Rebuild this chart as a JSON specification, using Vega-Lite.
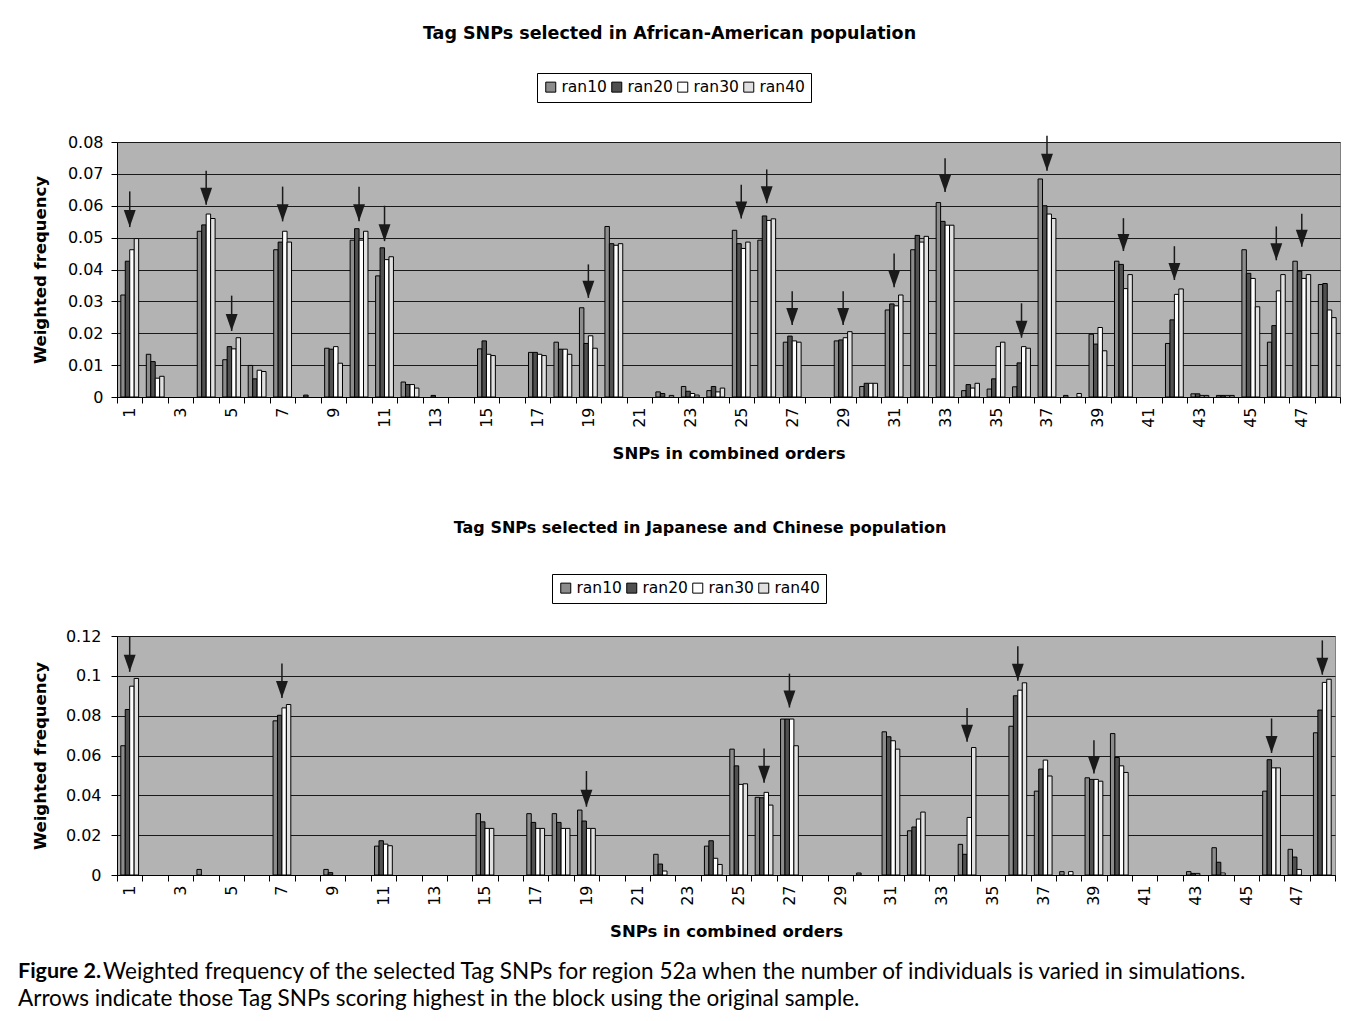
{
  "$schema": "https://vega.github.io/schema/vega-lite/v6.json",
  "background": "white",
  "padding": {"left": 18, "top": 24, "right": 0, "bottom": 0},
  "config": {
    "font": "DejaVu Sans",
    "view": {"fill": "#b3b3b3", "stroke": "#808080", "strokeWidth": 1},
    "title": {"fontSize": 17.5, "fontWeight": "bold", "color": "black", "anchor": "middle", "font": "DejaVu Sans"},
    "axis": {
      "domainColor": "black", "tickColor": "black", "tickSize": 6, "labelColor": "black",
      "labelFontSize": 16, "titleFontSize": 16.5, "titleFontWeight": "bold", "titleColor": "black",
      "gridColor": "#1a1a1a", "gridWidth": 1, "gridOpacity": 1
    },
    "legend": {
      "orient": "none", "direction": "horizontal", "strokeColor": "black", "strokeWidth": 1,
      "padding": 6, "symbolType": "square", "symbolSize": 100, "symbolStrokeColor": "black",
      "symbolStrokeWidth": 1, "symbolOpacity": 1, "labelFontSize": 15.5, "labelColor": "black",
      "labelOffset": 3, "columnPadding": 2, "fillColor": "white"
    }
  },
  "datasets": {
    "aa": [
      {"snp":1,"run":"ran10","freq":0.032},{"snp":1,"run":"ran20","freq":0.0426},{"snp":1,"run":"ran30","freq":0.0462},{"snp":1,"run":"ran40","freq":0.0497},
      {"snp":2,"run":"ran10","freq":0.0134},{"snp":2,"run":"ran20","freq":0.0111},{"snp":2,"run":"ran30","freq":0.0059},{"snp":2,"run":"ran40","freq":0.0065},
      {"snp":4,"run":"ran10","freq":0.052},{"snp":4,"run":"ran20","freq":0.054},{"snp":4,"run":"ran30","freq":0.0574},{"snp":4,"run":"ran40","freq":0.056},
      {"snp":5,"run":"ran10","freq":0.0117},{"snp":5,"run":"ran20","freq":0.0158},{"snp":5,"run":"ran30","freq":0.0151},{"snp":5,"run":"ran40","freq":0.0186},
      {"snp":6,"run":"ran10","freq":0.0099},{"snp":6,"run":"ran20","freq":0.0057},{"snp":6,"run":"ran30","freq":0.0084},{"snp":6,"run":"ran40","freq":0.008},
      {"snp":7,"run":"ran10","freq":0.0462},{"snp":7,"run":"ran20","freq":0.0486},{"snp":7,"run":"ran30","freq":0.052},{"snp":7,"run":"ran40","freq":0.0486},
      {"snp":8,"run":"ran20","freq":0.0006},
      {"snp":9,"run":"ran10","freq":0.0153},{"snp":9,"run":"ran20","freq":0.015},{"snp":9,"run":"ran30","freq":0.0158},{"snp":9,"run":"ran40","freq":0.0106},
      {"snp":10,"run":"ran10","freq":0.0492},{"snp":10,"run":"ran20","freq":0.0528},{"snp":10,"run":"ran30","freq":0.0492},{"snp":10,"run":"ran40","freq":0.052},
      {"snp":11,"run":"ran10","freq":0.038},{"snp":11,"run":"ran20","freq":0.0468},{"snp":11,"run":"ran30","freq":0.0431},{"snp":11,"run":"ran40","freq":0.044},
      {"snp":12,"run":"ran10","freq":0.0047},{"snp":12,"run":"ran20","freq":0.0039},{"snp":12,"run":"ran30","freq":0.0039},{"snp":12,"run":"ran40","freq":0.0028},
      {"snp":13,"run":"ran20","freq":0.0005},
      {"snp":15,"run":"ran10","freq":0.0151},{"snp":15,"run":"ran20","freq":0.0176},{"snp":15,"run":"ran30","freq":0.0134},{"snp":15,"run":"ran40","freq":0.013},
      {"snp":17,"run":"ran10","freq":0.014},{"snp":17,"run":"ran20","freq":0.014},{"snp":17,"run":"ran30","freq":0.0134},{"snp":17,"run":"ran40","freq":0.013},
      {"snp":18,"run":"ran10","freq":0.0172},{"snp":18,"run":"ran20","freq":0.015},{"snp":18,"run":"ran30","freq":0.015},{"snp":18,"run":"ran40","freq":0.0134},
      {"snp":19,"run":"ran10","freq":0.028},{"snp":19,"run":"ran20","freq":0.0168},{"snp":19,"run":"ran30","freq":0.0192},{"snp":19,"run":"ran40","freq":0.0153},
      {"snp":20,"run":"ran10","freq":0.0535},{"snp":20,"run":"ran20","freq":0.0481},{"snp":20,"run":"ran30","freq":0.0476},{"snp":20,"run":"ran40","freq":0.0481},
      {"snp":22,"run":"ran10","freq":0.0016},{"snp":22,"run":"ran20","freq":0.0011},{"snp":22,"run":"ran40","freq":0.0005},
      {"snp":23,"run":"ran10","freq":0.0033},{"snp":23,"run":"ran20","freq":0.0018},{"snp":23,"run":"ran30","freq":0.0011},{"snp":23,"run":"ran40","freq":0.0006},
      {"snp":24,"run":"ran10","freq":0.002},{"snp":24,"run":"ran20","freq":0.0033},{"snp":24,"run":"ran30","freq":0.0016},{"snp":24,"run":"ran40","freq":0.0028},
      {"snp":25,"run":"ran10","freq":0.0523},{"snp":25,"run":"ran20","freq":0.0481},{"snp":25,"run":"ran30","freq":0.0466},{"snp":25,"run":"ran40","freq":0.0486},
      {"snp":26,"run":"ran10","freq":0.0492},{"snp":26,"run":"ran20","freq":0.0568},{"snp":26,"run":"ran30","freq":0.0554},{"snp":26,"run":"ran40","freq":0.0559},
      {"snp":27,"run":"ran10","freq":0.0172},{"snp":27,"run":"ran20","freq":0.0191},{"snp":27,"run":"ran30","freq":0.0176},{"snp":27,"run":"ran40","freq":0.0172},
      {"snp":29,"run":"ran10","freq":0.0176},{"snp":29,"run":"ran20","freq":0.0179},{"snp":29,"run":"ran30","freq":0.0186},{"snp":29,"run":"ran40","freq":0.0205},
      {"snp":30,"run":"ran10","freq":0.0033},{"snp":30,"run":"ran20","freq":0.0043},{"snp":30,"run":"ran30","freq":0.0043},{"snp":30,"run":"ran40","freq":0.0043},
      {"snp":31,"run":"ran10","freq":0.0273},{"snp":31,"run":"ran20","freq":0.0292},{"snp":31,"run":"ran30","freq":0.0286},{"snp":31,"run":"ran40","freq":0.032},
      {"snp":32,"run":"ran10","freq":0.0462},{"snp":32,"run":"ran20","freq":0.0507},{"snp":32,"run":"ran30","freq":0.0486},{"snp":32,"run":"ran40","freq":0.0504},
      {"snp":33,"run":"ran10","freq":0.061},{"snp":33,"run":"ran20","freq":0.0551},{"snp":33,"run":"ran30","freq":0.0539},{"snp":33,"run":"ran40","freq":0.0539},
      {"snp":34,"run":"ran10","freq":0.002},{"snp":34,"run":"ran20","freq":0.0039},{"snp":34,"run":"ran30","freq":0.0028},{"snp":34,"run":"ran40","freq":0.0043},
      {"snp":35,"run":"ran10","freq":0.0025},{"snp":35,"run":"ran20","freq":0.0057},{"snp":35,"run":"ran30","freq":0.0158},{"snp":35,"run":"ran40","freq":0.0172},
      {"snp":36,"run":"ran10","freq":0.0032},{"snp":36,"run":"ran20","freq":0.0107},{"snp":36,"run":"ran30","freq":0.0158},{"snp":36,"run":"ran40","freq":0.0153},
      {"snp":37,"run":"ran10","freq":0.0684},{"snp":37,"run":"ran20","freq":0.06},{"snp":37,"run":"ran30","freq":0.0574},{"snp":37,"run":"ran40","freq":0.056},
      {"snp":38,"run":"ran10","freq":0.0005},{"snp":38,"run":"ran40","freq":0.0011},
      {"snp":39,"run":"ran10","freq":0.0197},{"snp":39,"run":"ran20","freq":0.0166},{"snp":39,"run":"ran30","freq":0.0218},{"snp":39,"run":"ran40","freq":0.0145},
      {"snp":40,"run":"ran10","freq":0.0426},{"snp":40,"run":"ran20","freq":0.0416},{"snp":40,"run":"ran30","freq":0.034},{"snp":40,"run":"ran40","freq":0.0384},
      {"snp":42,"run":"ran10","freq":0.0168},{"snp":42,"run":"ran20","freq":0.0242},{"snp":42,"run":"ran30","freq":0.0322},{"snp":42,"run":"ran40","freq":0.0339},
      {"snp":43,"run":"ran10","freq":0.001},{"snp":43,"run":"ran20","freq":0.001},{"snp":43,"run":"ran30","freq":0.0005},{"snp":43,"run":"ran40","freq":0.0005},
      {"snp":44,"run":"ran10","freq":0.0005},{"snp":44,"run":"ran20","freq":0.0005},{"snp":44,"run":"ran30","freq":0.0005},{"snp":44,"run":"ran40","freq":0.0005},
      {"snp":45,"run":"ran10","freq":0.0462},{"snp":45,"run":"ran20","freq":0.0388},{"snp":45,"run":"ran30","freq":0.0372},{"snp":45,"run":"ran40","freq":0.0283},
      {"snp":46,"run":"ran10","freq":0.0172},{"snp":46,"run":"ran20","freq":0.0224},{"snp":46,"run":"ran30","freq":0.0333},{"snp":46,"run":"ran40","freq":0.0384},
      {"snp":47,"run":"ran10","freq":0.0426},{"snp":47,"run":"ran20","freq":0.0395},{"snp":47,"run":"ran30","freq":0.0372},{"snp":47,"run":"ran40","freq":0.0384},
      {"snp":48,"run":"ran10","freq":0.0353},{"snp":48,"run":"ran20","freq":0.0356},{"snp":48,"run":"ran30","freq":0.0273},{"snp":48,"run":"ran40","freq":0.0249}
    ],
    "jc": [
      {"snp":1,"run":"ran10","freq":0.0649},{"snp":1,"run":"ran20","freq":0.0831},{"snp":1,"run":"ran30","freq":0.0948},{"snp":1,"run":"ran40","freq":0.0987},
      {"snp":4,"run":"ran10","freq":0.0028},
      {"snp":7,"run":"ran10","freq":0.0774},{"snp":7,"run":"ran20","freq":0.0802},{"snp":7,"run":"ran30","freq":0.0839},{"snp":7,"run":"ran40","freq":0.0856},
      {"snp":9,"run":"ran10","freq":0.0028},{"snp":9,"run":"ran20","freq":0.0012},
      {"snp":11,"run":"ran10","freq":0.0145},{"snp":11,"run":"ran20","freq":0.0172},{"snp":11,"run":"ran30","freq":0.0155},{"snp":11,"run":"ran40","freq":0.0147},
      {"snp":15,"run":"ran10","freq":0.0308},{"snp":15,"run":"ran20","freq":0.0267},{"snp":15,"run":"ran30","freq":0.0234},{"snp":15,"run":"ran40","freq":0.0234},
      {"snp":17,"run":"ran10","freq":0.0308},{"snp":17,"run":"ran20","freq":0.0264},{"snp":17,"run":"ran30","freq":0.0234},{"snp":17,"run":"ran40","freq":0.0234},
      {"snp":18,"run":"ran10","freq":0.0308},{"snp":18,"run":"ran20","freq":0.0264},{"snp":18,"run":"ran30","freq":0.0234},{"snp":18,"run":"ran40","freq":0.0234},
      {"snp":19,"run":"ran10","freq":0.0326},{"snp":19,"run":"ran20","freq":0.0271},{"snp":19,"run":"ran30","freq":0.0234},{"snp":19,"run":"ran40","freq":0.0234},
      {"snp":22,"run":"ran10","freq":0.0104},{"snp":22,"run":"ran20","freq":0.0055},{"snp":22,"run":"ran30","freq":0.002},
      {"snp":24,"run":"ran10","freq":0.0145},{"snp":24,"run":"ran20","freq":0.0172},{"snp":24,"run":"ran30","freq":0.0084},{"snp":24,"run":"ran40","freq":0.0053},
      {"snp":25,"run":"ran10","freq":0.0632},{"snp":25,"run":"ran20","freq":0.0548},{"snp":25,"run":"ran30","freq":0.0455},{"snp":25,"run":"ran40","freq":0.0458},
      {"snp":26,"run":"ran10","freq":0.039},{"snp":26,"run":"ran20","freq":0.0388},{"snp":26,"run":"ran30","freq":0.0415},{"snp":26,"run":"ran40","freq":0.0351},
      {"snp":27,"run":"ran10","freq":0.0783},{"snp":27,"run":"ran20","freq":0.0783},{"snp":27,"run":"ran30","freq":0.0783},{"snp":27,"run":"ran40","freq":0.0649},
      {"snp":30,"run":"ran10","freq":0.001},
      {"snp":31,"run":"ran10","freq":0.0719},{"snp":31,"run":"ran20","freq":0.0694},{"snp":31,"run":"ran30","freq":0.0674},{"snp":31,"run":"ran40","freq":0.0632},
      {"snp":32,"run":"ran10","freq":0.0222},{"snp":32,"run":"ran20","freq":0.0241},{"snp":32,"run":"ran30","freq":0.0281},{"snp":32,"run":"ran40","freq":0.0316},
      {"snp":34,"run":"ran10","freq":0.0154},{"snp":34,"run":"ran20","freq":0.0104},{"snp":34,"run":"ran30","freq":0.0289},{"snp":34,"run":"ran40","freq":0.064},
      {"snp":36,"run":"ran10","freq":0.0747},{"snp":36,"run":"ran20","freq":0.09},{"snp":36,"run":"ran30","freq":0.0928},{"snp":36,"run":"ran40","freq":0.0965},
      {"snp":37,"run":"ran10","freq":0.0421},{"snp":37,"run":"ran20","freq":0.0532},{"snp":37,"run":"ran30","freq":0.0577},{"snp":37,"run":"ran40","freq":0.0497},
      {"snp":38,"run":"ran10","freq":0.0017},{"snp":38,"run":"ran30","freq":0.0017},
      {"snp":39,"run":"ran10","freq":0.0488},{"snp":39,"run":"ran20","freq":0.048},{"snp":39,"run":"ran30","freq":0.048},{"snp":39,"run":"ran40","freq":0.0471},
      {"snp":40,"run":"ran10","freq":0.071},{"snp":40,"run":"ran20","freq":0.059},{"snp":40,"run":"ran30","freq":0.0548},{"snp":40,"run":"ran40","freq":0.0515},
      {"snp":43,"run":"ran10","freq":0.0017},{"snp":43,"run":"ran20","freq":0.0008},{"snp":43,"run":"ran30","freq":0.0008},
      {"snp":44,"run":"ran10","freq":0.0137},{"snp":44,"run":"ran20","freq":0.0064},{"snp":44,"run":"ran30","freq":0.001},
      {"snp":46,"run":"ran10","freq":0.0421},{"snp":46,"run":"ran20","freq":0.0579},{"snp":46,"run":"ran30","freq":0.0538},{"snp":46,"run":"ran40","freq":0.0538},
      {"snp":47,"run":"ran10","freq":0.0129},{"snp":47,"run":"ran20","freq":0.009},{"snp":47,"run":"ran30","freq":0.0028},
      {"snp":48,"run":"ran10","freq":0.0714},{"snp":48,"run":"ran20","freq":0.0828},{"snp":48,"run":"ran30","freq":0.0967},{"snp":48,"run":"ran40","freq":0.0983}
    ],
    "arrAA": [
      {"snp":1,"top":0.0645,"tip":0.0533},{"snp":4,"top":0.071,"tip":0.0603},{"snp":5,"top":0.0318,"tip":0.0207},
      {"snp":7,"top":0.066,"tip":0.0551},{"snp":10,"top":0.066,"tip":0.0551},{"snp":11,"top":0.06,"tip":0.0489},
      {"snp":19,"top":0.0416,"tip":0.0311},{"snp":25,"top":0.0666,"tip":0.056},{"snp":26,"top":0.0714,"tip":0.0608},
      {"snp":27,"top":0.0332,"tip":0.0226},{"snp":29,"top":0.0332,"tip":0.0226},{"snp":31,"top":0.045,"tip":0.0344},
      {"snp":33,"top":0.0749,"tip":0.0643},{"snp":36,"top":0.0294,"tip":0.0186},{"snp":37,"top":0.082,"tip":0.071},
      {"snp":40,"top":0.0561,"tip":0.0458},{"snp":42,"top":0.0473,"tip":0.0367},{"snp":46,"top":0.0535,"tip":0.0429},
      {"snp":47,"top":0.0575,"tip":0.0471}
    ],
    "arrJC": [
      {"snp":1,"top":0.12,"tip":0.102},{"snp":7,"top":0.1062,"tip":0.0889},{"snp":19,"top":0.0522,"tip":0.0343},
      {"snp":26,"top":0.0635,"tip":0.0463},{"snp":27,"top":0.1011,"tip":0.0841},{"snp":34,"top":0.0839,"tip":0.0669},
      {"snp":36,"top":0.1149,"tip":0.0975},{"snp":39,"top":0.0677,"tip":0.051},{"snp":46,"top":0.0786,"tip":0.0613},
      {"snp":48,"top":0.1178,"tip":0.1006}
    ],
    "cap": [
      {"line":1,"part":"label","text":"Figure 2."},
      {"line":1,"part":"body","text":"Weighted frequency of the selected Tag SNPs for region 52a when the number of individuals is varied in simulations."},
      {"line":2,"part":"body","text":"Arrows indicate those Tag SNPs scoring highest in the block using the original sample."}
    ]
  },
  "vconcat": [
    {
      "spacing": 56,
      "align": "none",
      "vconcat": [
        {
          "width": 1223,
          "height": 255,
          "title": {"text": "Tag SNPs selected in African-American population", "offset": 30, "frame": "group", "dx": -59},
          "encoding": {
            "x": {"field": "snp", "type": "ordinal", "title": "SNPs in combined orders",
              "scale": {"domain": [1,2,3,4,5,6,7,8,9,10,11,12,13,14,15,16,17,18,19,20,21,22,23,24,25,26,27,28,29,30,31,32,33,34,35,36,37,38,39,40,41,42,43,44,45,46,47,48], "paddingInner": 0, "paddingOuter": 0},
              "axis": {"tickBand": "extent", "labelAngle": -90, "labelPadding": 4, "labelOverlap": false, "grid": false, "titlePadding": 18,
                "labelExpr": "datum.value % 2 == 1 ? datum.label : ''"}}
          },
          "layer": [
            {
              "data": {"name": "aa"},
              "mark": {"type": "bar", "stroke": "black", "strokeWidth": 1},
              "encoding": {
                "xOffset": {"field": "run", "type": "nominal", "scale": {"domain": ["ran10","ran20","ran30","ran40"], "paddingInner": 0, "paddingOuter": 0.857}},
                "y": {"field": "freq", "type": "quantitative", "title": "Weighted frequency",
                  "scale": {"domain": [0, 0.08], "nice": false},
                  "axis": {"values": [0,0.01,0.02,0.03,0.04,0.05,0.06,0.07,0.08], "format": ".2~f", "labelPadding": 8, "titlePadding": 19, "grid": true, "labelOverlap": false}},
                "fill": {"field": "run", "type": "nominal",
                  "scale": {"domain": ["ran10","ran20","ran30","ran40"], "range": ["#8c8c8c","#505050","#ffffff","#e0e0e0"]},
                  "legend": {"title": null, "legendX": 420, "legendY": -69}}
              }
            },
            {
              "data": {"name": "arrAA"},
              "mark": {"type": "rule", "color": "#1a1a1a", "strokeWidth": 1.5},
              "encoding": {
                "y": {"field": "top", "type": "quantitative", "title": "Weighted frequency", "scale": {"domain": [0, 0.08], "nice": false},
                  "axis": {"values": [0,0.01,0.02,0.03,0.04,0.05,0.06,0.07,0.08], "format": ".2~f", "labelPadding": 8, "titlePadding": 19, "grid": true, "labelOverlap": false}},
                "y2": {"field": "tip"}
              }
            },
            {
              "data": {"name": "arrAA"},
              "mark": {"type": "point", "shape": "M-0.35,-1L0.35,-1L0,0Z", "size": 1156, "filled": true, "color": "#1a1a1a", "opacity": 1, "strokeWidth": 0},
              "encoding": {
                "y": {"field": "tip", "type": "quantitative", "title": "Weighted frequency", "scale": {"domain": [0, 0.08], "nice": false},
                  "axis": {"values": [0,0.01,0.02,0.03,0.04,0.05,0.06,0.07,0.08], "format": ".2~f", "labelPadding": 8, "titlePadding": 19, "grid": true, "labelOverlap": false}}
              }
            }
          ]
        },
        {
          "width": 1218,
          "height": 239,
          "title": {"text": "Tag SNPs selected in Japanese and Chinese population", "offset": 38, "frame": "group", "dx": -26, "fontSize": 16},
          "encoding": {
            "x": {"field": "snp", "type": "ordinal", "title": "SNPs in combined orders",
              "scale": {"domain": [1,2,3,4,5,6,7,8,9,10,11,12,13,14,15,16,17,18,19,20,21,22,23,24,25,26,27,28,29,30,31,32,33,34,35,36,37,38,39,40,41,42,43,44,45,46,47,48], "paddingInner": 0, "paddingOuter": 0},
              "axis": {"tickBand": "extent", "labelAngle": -90, "labelPadding": 4, "labelOverlap": false, "grid": false, "titlePadding": 18,
                "labelExpr": "datum.value % 2 == 1 ? datum.label : ''"}}
          },
          "layer": [
            {
              "data": {"name": "jc"},
              "mark": {"type": "bar", "stroke": "black", "strokeWidth": 1},
              "encoding": {
                "xOffset": {"field": "run", "type": "nominal", "scale": {"domain": ["ran10","ran20","ran30","ran40"], "paddingInner": 0, "paddingOuter": 0.857}},
                "y": {"field": "freq", "type": "quantitative", "title": "Weighted frequency",
                  "scale": {"domain": [0, 0.12], "nice": false},
                  "axis": {"values": [0,0.02,0.04,0.06,0.08,0.1,0.12], "format": ".2~f", "labelPadding": 10, "titlePadding": 17, "grid": true, "labelOverlap": false}},
                "fill": {"field": "run", "type": "nominal",
                  "scale": {"domain": ["ran10","ran20","ran30","ran40"], "range": ["#8c8c8c","#505050","#ffffff","#e0e0e0"]},
                  "legend": {"title": null, "legendX": 435, "legendY": -62}}
              }
            },
            {
              "data": {"name": "arrJC"},
              "mark": {"type": "rule", "color": "#1a1a1a", "strokeWidth": 1.5},
              "encoding": {
                "y": {"field": "top", "type": "quantitative", "title": "Weighted frequency", "scale": {"domain": [0, 0.12], "nice": false},
                  "axis": {"values": [0,0.02,0.04,0.06,0.08,0.1,0.12], "format": ".2~f", "labelPadding": 10, "titlePadding": 17, "grid": true, "labelOverlap": false}},
                "y2": {"field": "tip"}
              }
            },
            {
              "data": {"name": "arrJC"},
              "mark": {"type": "point", "shape": "M-0.35,-1L0.35,-1L0,0Z", "size": 1156, "filled": true, "color": "#1a1a1a", "opacity": 1, "strokeWidth": 0},
              "encoding": {
                "y": {"field": "tip", "type": "quantitative", "title": "Weighted frequency", "scale": {"domain": [0, 0.12], "nice": false},
                  "axis": {"values": [0,0.02,0.04,0.06,0.08,0.1,0.12], "format": ".2~f", "labelPadding": 10, "titlePadding": 17, "grid": true, "labelOverlap": false}}
              }
            }
          ]
        }
      ],
      "resolve": {"legend": {"fill": "independent"}, "scale": {"fill": "independent", "x": "independent", "y": "independent", "xOffset": "independent"}}
    },
    {
      "width": 1223,
      "height": 55,
      "view": {"fill": null, "stroke": null},
      "data": {"name": "cap"},
      "encoding": {
        "x": {"datum": 0, "type": "quantitative", "scale": {"domain": [0, 1]}, "axis": null},
        "y": {"field": "line", "type": "ordinal", "axis": null},
        "text": {"field": "text"}
      },
      "layer": [
        {
          "transform": [{"filter": "datum.part == 'label'"}],
          "mark": {"type": "text", "align": "left", "baseline": "middle", "font": "Lato", "fontSize": 21.5, "fontWeight": "bold", "color": "black", "dx": -99}
        },
        {
          "transform": [{"filter": "datum.part == 'body' && datum.line == 1"}],
          "mark": {"type": "text", "align": "left", "baseline": "middle", "font": "Lato", "fontSize": 22.5, "color": "black", "dx": -14}
        },
        {
          "transform": [{"filter": "datum.part == 'body' && datum.line == 2"}],
          "mark": {"type": "text", "align": "left", "baseline": "middle", "font": "Lato", "fontSize": 22.5, "color": "black", "dx": -99}
        }
      ]
    }
  ],
  "spacing": 17,
  "align": "none",
  "resolve": {"legend": {"fill": "independent"}, "scale": {"fill": "independent", "x": "independent", "y": "independent", "xOffset": "independent"}}
}
